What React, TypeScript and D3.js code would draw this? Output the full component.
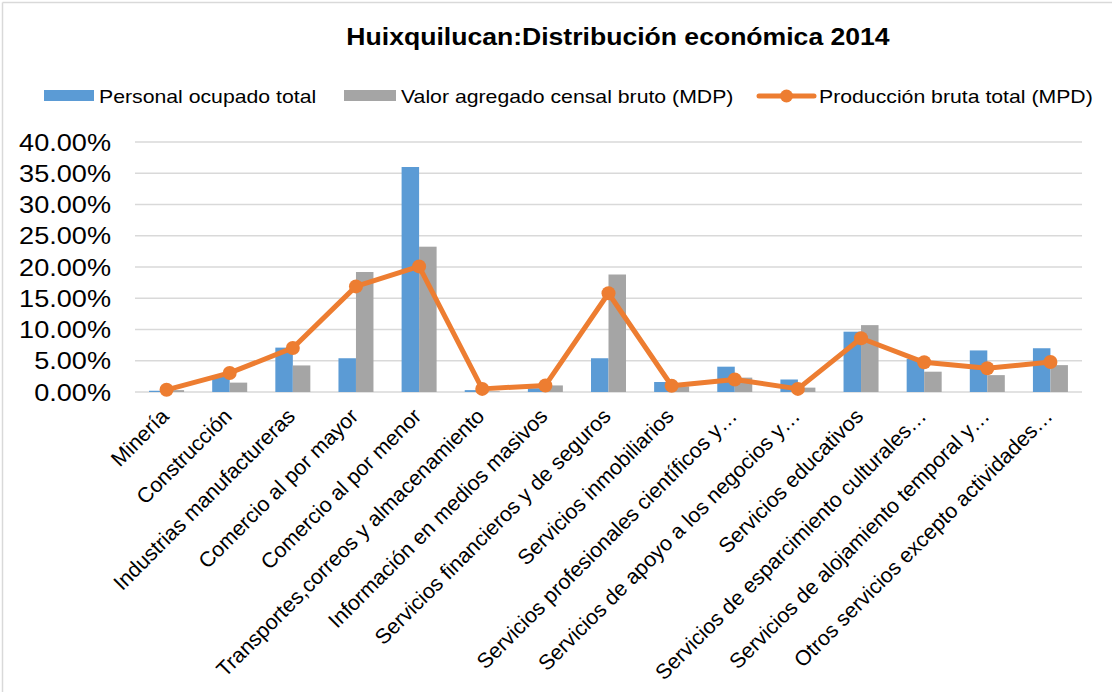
import React from "react";
import * as d3 from "d3";

const title = "Huixquilucan:Distribución económica 2014";
const categories = [
  "Minería",
  "Construcción",
  "Industrias manufactureras",
  "Comercio al por mayor",
  "Comercio al por menor",
  "Transportes,correos y almacenamiento",
  "Información en medios masivos",
  "Servicios financieros y de seguros",
  "Servicios inmobiliarios",
  "Servicios profesionales científicos y…",
  "Servicios de apoyo a los negocios y…",
  "Servicios educativos",
  "Servicios de esparcimiento culturales…",
  "Servicios de alojamiento temporal y…",
  "Otros servicios excepto actividades…",
];
const seriesNames = [
  "Personal ocupado total",
  "Valor agregado censal bruto (MDP)",
  "Producción bruta total (MPD)",
];
const personal = [0.002, 0.025, 0.071, 0.054, 0.36, 0.003, 0.006, 0.054, 0.016, 0.0405, 0.02, 0.0965, 0.053, 0.0665, 0.07];
const valor = [0.003, 0.015, 0.0425, 0.192, 0.2325, 0.001, 0.0105, 0.188, 0.009, 0.023, 0.007, 0.107, 0.0325, 0.027, 0.043];
const produccion = [0.0035, 0.0305, 0.0705, 0.169, 0.201, 0.005, 0.0105, 0.158, 0.01, 0.02, 0.005, 0.086, 0.0475, 0.038, 0.048];
const yTicks = [0, 0.05, 0.1, 0.15, 0.2, 0.25, 0.3, 0.35, 0.4];

const BLUE = "#5B9BD5";
const GRAY = "#A5A5A5";
const ORANGE = "#ED7D31";
const GRID = "#D9D9D9";
const FONT = "'Liberation Sans', Arial, sans-serif";
const SX = 1.13;

export default function App() {
  const W = 1112;
  const H = 692;
  const x = d3.scaleBand<string>().domain(categories).range([135, 1082]).padding(0);
  const y = d3.scaleLinear().domain([0, 0.4]).range([392, 142]);
  const barW = 17.5;
  const cx = (c: string) => (x(c) as number) + x.bandwidth() / 2;
  const fmt = d3.format(".2%");
  const line = d3
    .line<number>()
    .x((_, i) => cx(categories[i]))
    .y((d) => y(d));

  return (
    <svg
      width={W}
      height={H}
      style={{ position: "absolute", left: 0, top: 0, background: "#fff" }}
      fontFamily={FONT}
    >
      <rect x={0} y={0} width={W} height={H} fill="#fff" />
      <line x1={2.5} y1={2.5} x2={W} y2={2.5} stroke={GRID} strokeWidth={1.5} />
      <line x1={2.5} y1={2.5} x2={2.5} y2={H} stroke={GRID} strokeWidth={1.5} />

      {/* title */}
      <g transform={`translate(618,45) scale(1.085,1)`}>
        <text textAnchor="middle" fontSize={24.5} fontWeight="bold" fill="#000">
          {title}
        </text>
      </g>

      {/* legend */}
      <rect x={44} y={90} width={50} height={11} fill={BLUE} />
      <g transform={`translate(99,103) scale(${SX},1)`}>
        <text fontSize={18.8} fill="#000">{seriesNames[0]}</text>
      </g>
      <rect x={344} y={90} width={52} height={11} fill={GRAY} />
      <g transform={`translate(401,103) scale(${SX},1)`}>
        <text fontSize={18.8} fill="#000">{seriesNames[1]}</text>
      </g>
      <line x1={759} y1={96} x2={814} y2={96} stroke={ORANGE} strokeWidth={5} strokeLinecap="round" />
      <circle cx={786.5} cy={96} r={6.5} fill={ORANGE} />
      <g transform={`translate(819,103) scale(${SX},1)`}>
        <text fontSize={18.8} fill="#000">{seriesNames[2]}</text>
      </g>

      {/* gridlines and y ticks */}
      {yTicks.map((t) => (
        <g key={t}>
          <line x1={135} x2={1082} y1={y(t)} y2={y(t)} stroke={GRID} strokeWidth={1.5} />
          <g transform={`translate(111,${y(t) + 8.6}) scale(${SX},1)`}>
            <text textAnchor="end" fontSize={24} fill="#000">{fmt(t)}</text>
          </g>
        </g>
      ))}

      {/* bars */}
      {categories.map((c, i) => (
        <g key={c}>
          <rect x={cx(c) - barW} y={y(personal[i])} width={barW} height={y(0) - y(personal[i])} fill={BLUE} />
          <rect x={cx(c)} y={y(valor[i])} width={barW} height={y(0) - y(valor[i])} fill={GRAY} />
        </g>
      ))}

      {/* line */}
      <path d={line(produccion) || ""} fill="none" stroke={ORANGE} strokeWidth={5} strokeLinejoin="round" strokeLinecap="round" />
      {produccion.map((v, i) => (
        <circle key={i} cx={cx(categories[i])} cy={y(v)} r={7} fill={ORANGE} />
      ))}

      {/* x labels */}
      {categories.map((c) => (
        <g key={c} transform={`translate(${cx(c) + 3.5},${417.5}) rotate(-45)`}>
          <text textAnchor="end" fontSize={21.3} fill="#000">{c}</text>
        </g>
      ))}
    </svg>
  );
}
